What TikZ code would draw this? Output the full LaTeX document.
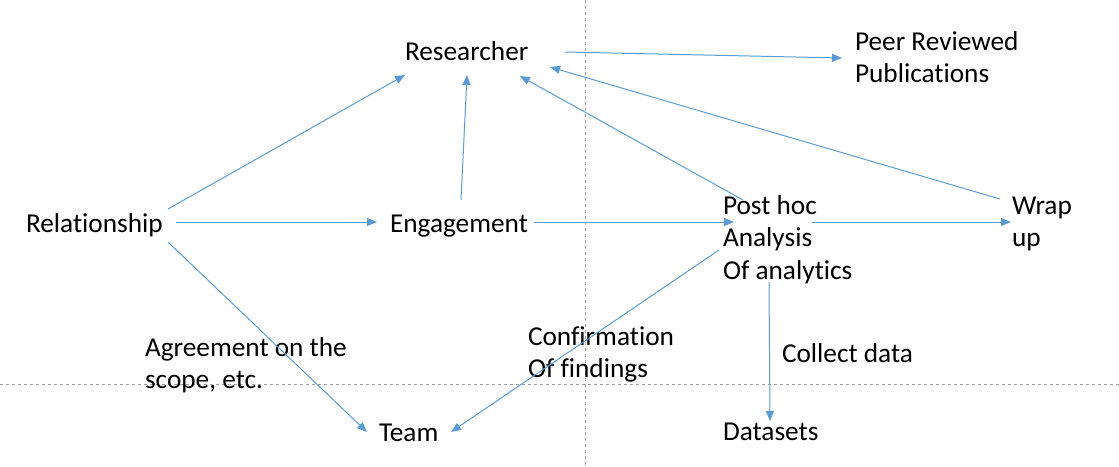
\documentclass[tikz,border=0pt]{standalone}
\usepackage{fontspec}
\setmainfont{Carlito}[Ligatures={NoCommon}]
\usetikzlibrary{arrows.meta}
\definecolor{linkblue}{HTML}{5B9BD5}
\definecolor{guidegray}{HTML}{A0A0A0}
\newcommand{\mlines}[1]{\begin{tabular}[t]{@{}l@{}}#1\end{tabular}}
\begin{document}
\begin{tikzpicture}[x=1pt,y=-1pt,
  lbl/.style={anchor=base west,inner sep=0pt,outer sep=0pt,text=black,
    font=\fontsize{27.3}{32.5}\selectfont},
  conn/.style={draw=linkblue,line width=1pt,-{Triangle[length=10pt,width=8pt]}},
  guide/.style={draw=guidegray,line width=0.8pt,dash pattern=on 3pt off 3pt}]
\useasboundingbox (0,0) rectangle (1119,466);
% guide lines
\draw[guide] (585,0) -- (585,466);
\draw[guide] (0,384) -- (1119,384);
% labels
\node[lbl] (res)  at (405,60)  {Researcher};
\node[lbl] (peer) at (855,50)  {\mlines{Peer Reviewed\\Publications}};
\node[lbl] (rel)  at (26,232)  {Relationship};
\node[lbl] (eng)  at (390,232) {Engagement};
\node[lbl] (post) at (723,214) {\mlines{Post hoc\\Analysis\\Of analytics}};
\node[lbl] (wrap) at (1012,214){\mlines{Wrap\\up}};
\node[lbl] (conf) at (528,345) {\mlines{Confirmation\\Of findings}};
\node[lbl] (coll) at (782,362) {Collect data};
\node[lbl] (agr)  at (145,356) {\mlines{Agreement on the\\scope, etc.}};
\node[lbl] (team) at (379,441) {Team};
\node[lbl] (data) at (723,440) {Datasets};
% connectors
\draw[conn] ([shift={(160,-8)}]res.base west) -- ([shift={(-13,8)}]peer.base west);
\draw[conn] ([shift={(142,-23)}]rel.base west) -- ([shift={(0,15)}]res.base west);
\draw[conn] ([shift={(71,-32)}]eng.base west) -- ([shift={(62,15)}]res.base west);
\draw[conn] ([shift={(150,-10)}]rel.base west) -- ([shift={(-13,-10)}]eng.base west);
\draw[conn] ([shift={(142,10)}]rel.base west) -- ([shift={(-12,-9)}]team.base west);
\draw[conn] ([shift={(144,-10)}]eng.base west) -- ([shift={(11,8)}]post.base west);
\draw[conn] ([shift={(89,8)}]post.base west) -- ([shift={(-1,8)}]wrap.base west);
\draw[conn] ([shift={(20,-14)}]post.base west) -- ([shift={(115,16)}]res.base west);
\draw[conn] ([shift={(-12,-15)}]wrap.base west) -- ([shift={(145,7)}]res.base west);
\draw[conn] ([shift={(-4,36)}]post.base west) -- ([shift={(72,-9)}]team.base west);
\draw[conn] ([shift={(46,68)}]post.base west) -- ([shift={(47,-19)}]data.base west);
\end{tikzpicture}
\end{document}
